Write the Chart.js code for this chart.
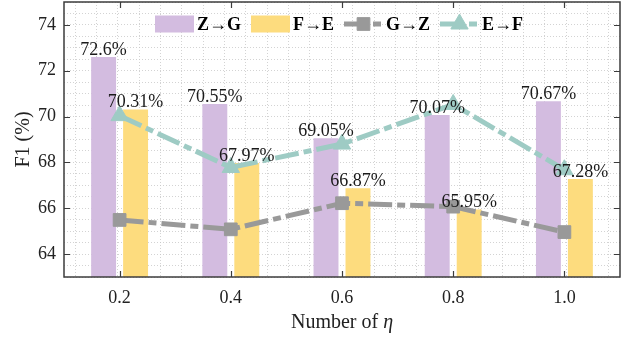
<!DOCTYPE html>
<html>
<head>
<meta charset="utf-8">
<script src="https://cdn.jsdelivr.net/npm/chart.js@4.4.1/dist/chart.umd.min.js"></script>
<style>
html, body { margin: 0; padding: 0; background: #fff; }
#wrap { width: 636px; height: 341px; }
</style>
</head>
<body>
<div id="wrap"><canvas id="chart" width="636" height="341"></canvas></div>
<script>
const etaLabels = ["0.2", "0.4", "0.6", "0.8", "1.0"];
const zgValues = [72.6, 70.55, 69.05, 70.07, 70.67];
const feValues = [70.31, 67.97, 66.87, 65.95, 67.28];
const gzValues = [65.49, 65.08, 66.22, 66.07, 64.96];
const efValues = [70.04, 67.78, 68.8, 70.53, 67.68];
const yTickLabels = [64, 66, 68, 70, 72, 74];

const serif = "'Liberation Serif', 'DejaVu Serif', serif";
const purple = "#d3bce0";
const yellow = "#fddc7e";
const gray = "#999999";
const teal = "#9ecbc4";
const dashDot = [24, 5, 8, 5];

// minor grid every 0.04 along eta (bounds 0.1 .. 1.1)
function minorXTicks(scale) {
    const ticks = [];
    for (let i = 3; i <= 27; i++) ticks.push({ value: i * 0.04 });
    scale.ticks = ticks;
}

function noPad(s) {
    s.paddingTop = 0;
    s.paddingBottom = 0;
    s.paddingLeft = 0;
    s.paddingRight = 0;
}

const gridStyle = { color: "#c8c8c8", lineWidth: 0.8, drawTicks: false };
const borderStyle = { display: false, dash: [1, 2] };

const extrasPlugin = {
    id: "extras",
    afterDatasetsDraw(chart) {
        const { ctx, chartArea: a, scales } = chart;
        ctx.save();

        // value labels above bars
        ctx.font = "18px " + serif;
        ctx.fillStyle = "#1a1a1a";
        ctx.textAlign = "center";
        ctx.textBaseline = "alphabetic";
        [0, 1].forEach(di => {
            const meta = chart.getDatasetMeta(di);
            const vals = chart.data.datasets[di].data;
            meta.data.forEach((bar, i) => {
                ctx.fillText(vals[i] + "%", bar.x, bar.y - 2);
            });
        });

        // frame + inward ticks
        ctx.strokeStyle = "#3c3c3c";
        ctx.lineWidth = 1.5;
        ctx.setLineDash([]);
        ctx.strokeRect(a.left, a.top, a.right - a.left, a.bottom - a.top);
        ctx.lineWidth = 1.2;
        ctx.beginPath();
        etaLabels.forEach((_, i) => {
            const px = Math.round(scales.x.getPixelForValue(i)) + 0.5;
            ctx.moveTo(px, a.bottom); ctx.lineTo(px, a.bottom - 6);
            ctx.moveTo(px, a.top); ctx.lineTo(px, a.top + 6);
        });
        yTickLabels.forEach(v => {
            const py = Math.round(scales.y.getPixelForValue(v)) + 0.5;
            ctx.moveTo(a.left, py); ctx.lineTo(a.left + 6, py);
            ctx.moveTo(a.right, py); ctx.lineTo(a.right - 6, py);
        });
        ctx.stroke();

        // x title with italic eta
        const cx = (a.left + a.right) / 2;
        const ty = 323;
        ctx.fillStyle = "#222";
        ctx.textBaseline = "middle";
        ctx.font = "20px " + serif;
        const part1 = "Number of ";
        const w1 = ctx.measureText(part1).width;
        ctx.font = "italic 20px " + serif;
        const w2 = ctx.measureText("η").width;
        let sx = cx - (w1 + w2) / 2;
        ctx.textAlign = "left";
        ctx.font = "20px " + serif;
        ctx.fillText(part1, sx, ty);
        ctx.font = "italic 20px " + serif;
        ctx.fillText("η", sx + w1, ty);

        // legend inside the plot
        const cy = a.top + 22;
        const handle = 39, pad = 3, gap = 10;
        ctx.font = "bold 18px " + serif;
        const items = chart.data.datasets.map(ds => ({ ds, w: handle + pad + ctx.measureText(ds.label).width }));
        const total = items.reduce((s, it) => s + it.w, 0) + gap * (items.length - 1);
        let x = cx - total / 2 - 3;
        items.forEach(({ ds }) => {
            if (ds.type === "line") {
                ctx.save();
                ctx.strokeStyle = ds.borderColor;
                ctx.lineWidth = ds.borderWidth;
                ctx.setLineDash(ds.borderDash);
                ctx.beginPath();
                ctx.moveTo(x, cy); ctx.lineTo(x + handle, cy);
                ctx.stroke();
                ctx.setLineDash([]);
                ctx.fillStyle = ds.pointBackgroundColor;
                ctx.strokeStyle = ds.pointBackgroundColor;
                ctx.lineWidth = 1;
                Chart.helpers.drawPoint(ctx, { pointStyle: ds.pointStyle, radius: ds.pointRadius, borderWidth: 1, rotation: 0 }, x + handle / 2, cy);
                ctx.restore();
            } else {
                ctx.fillStyle = ds.backgroundColor;
                ctx.fillRect(x, cy - 8.5, handle, 17);
            }
            ctx.fillStyle = "#000";
            ctx.textAlign = "left";
            ctx.fillText(ds.label, x + handle + pad, cy + 1);
            x += handle + pad + ctx.measureText(ds.label).width + gap;
        });

        ctx.restore();
    }
};

new Chart(document.getElementById("chart"), {
    type: "bar",
    data: {
        labels: etaLabels,
        datasets: [
            {
                label: "Z→G",
                data: zgValues,
                backgroundColor: purple,
                categoryPercentage: 0.575,
                barPercentage: 0.78,
                order: 2
            },
            {
                label: "F→E",
                data: feValues,
                backgroundColor: yellow,
                categoryPercentage: 0.575,
                barPercentage: 0.78,
                order: 2
            },
            {
                type: "line",
                label: "G→Z",
                data: gzValues,
                borderColor: gray,
                borderWidth: 5,
                borderDash: dashDot,
                borderCapStyle: "butt",
                pointStyle: "rect",
                pointRadius: 9,
                pointBackgroundColor: gray,
                pointBorderColor: gray,
                pointBorderWidth: 1,
                tension: 0,
                order: 1
            },
            {
                type: "line",
                label: "E→F",
                data: efValues,
                borderColor: teal,
                borderWidth: 5,
                borderDash: dashDot,
                borderCapStyle: "butt",
                pointStyle: "triangle",
                pointRadius: 10,
                pointBackgroundColor: teal,
                pointBorderColor: teal,
                pointBorderWidth: 1,
                tension: 0,
                order: 0
            }
        ]
    },
    options: {
        responsive: false,
        animation: false,
        devicePixelRatio: 1,
        layout: { autoPadding: false, padding: { top: 2, right: 16, left: 0, bottom: 0 } },
        plugins: {
            legend: { display: false },
            tooltip: { enabled: false }
        },
        scales: {
            x: {
                type: "category",
                position: "bottom",
                offset: true,
                grid: { display: false, drawTicks: false },
                border: { display: false },
                ticks: { font: { family: serif, size: 18 }, color: "#222", padding: 10, maxRotation: 0 },
                afterFit: s => { s.height = 64; noPad(s); }
            },
            xg: {
                type: "linear",
                position: "bottom",
                min: 0.1,
                max: 1.1,
                afterBuildTicks: minorXTicks,
                grid: gridStyle,
                border: borderStyle,
                ticks: { display: false },
                afterFit: s => { s.height = 0; noPad(s); }
            },
            y: {
                type: "linear",
                min: 63,
                max: 75,
                grid: gridStyle,
                border: borderStyle,
                ticks: {
                    stepSize: 0.5,
                    autoSkip: false,
                    font: { family: serif, size: 18 },
                    color: "#222",
                    padding: 8,
                    callback: v => yTickLabels.includes(v) ? String(v) : ""
                },
                title: {
                    display: true,
                    text: "F1 (%)",
                    font: { family: serif, size: 20 },
                    color: "#222",
                    padding: { top: 12, bottom: 0 }
                },
                afterFit: s => { s.width = 64; noPad(s); }
            }
        }
    },
    plugins: [extrasPlugin]
});
</script>
</body>
</html>
